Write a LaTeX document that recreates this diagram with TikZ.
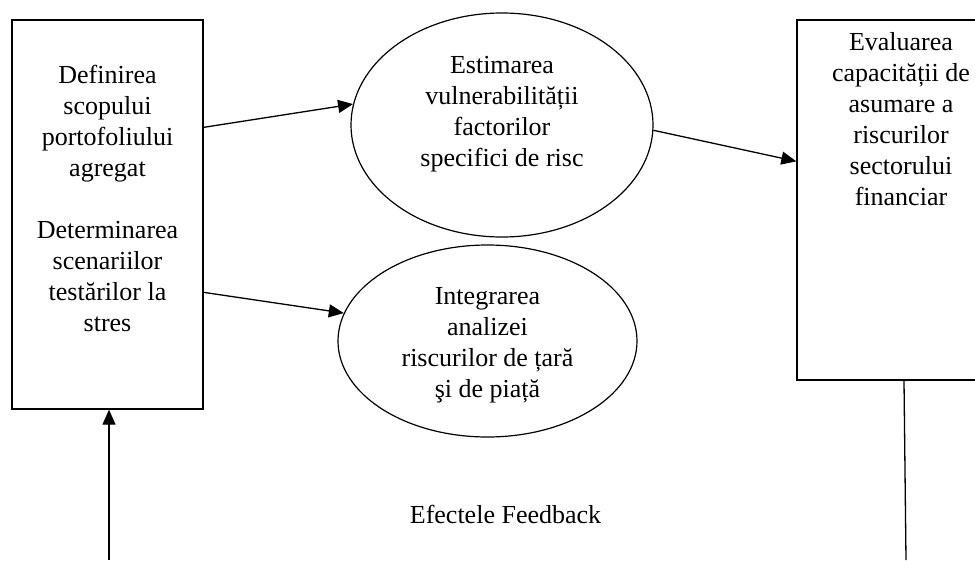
\documentclass[tikz,border=0pt]{standalone}
\usepackage{fontspec}
\setmainfont{Liberation Serif}
\usetikzlibrary{shapes.geometric,arrows.meta,calc}
\tikzset{
  boxshape/.style={draw, line width=1.3pt, rectangle, inner sep=0pt},
  ovalshape/.style={draw, line width=1.2pt, ellipse, inner sep=0pt},
  lbl/.style={align=center, inner sep=0pt, anchor=north, font=\fontsize{26}{31}\selectfont},
  conn/.style={line width=1.3pt, -{Triangle[length=15pt,width=13pt]}},
  plainconn/.style={line width=1.3pt}
}
\begin{document}
\begin{tikzpicture}[x=1pt,y=-1pt]
\useasboundingbox (0,0) rectangle (975,560);
\clip (0,0) rectangle (975,560);
% shapes
\node[boxshape, minimum width=191pt, minimum height=389pt] (lbox) at (107.5,214.5) {};
\node[boxshape, minimum width=208pt, minimum height=360pt] (rbox) at (901,200) {};
\node[ovalshape, minimum width=302pt, minimum height=224pt] (e1) at (502,125) {};
\node[ovalshape, minimum width=299pt, minimum height=192pt] (e2) at (487.5,341) {};
% texts
\node[lbl] (lboxt) at (107.5,61.5) {\strut Definirea\\scopului\\portofoliului\\agregat\\[31pt]Determinarea\\scenariilor\\testărilor la\\stres};
\node[lbl] (rboxt) at (901,28.5) {\strut Evaluarea\\capacității de\\asumare a\\riscurilor\\sectorului\\financiar};
\node[lbl] (e1t) at (502,51.5) {\strut Estimarea\\vulnerabilității\\factorilor\\specifici de risc};
\node[lbl] (e2t) at (487.5,282.5) {\strut Integrarea\\analizei\\riscurilor de țară\\şi de piață};
\node[font=\fontsize{26}{31}\selectfont, inner sep=0pt, anchor=base] (fb) at (505.5,523) {Efectele Feedback};
% connectors
\draw[conn] ($(lbox.north east)+(0,108)$) -- (e1.172);
\draw[conn] ($(lbox.north east)+(0,273)$) -- (e2.169);
\draw[conn] (e1.-2) -- ($(rbox.north west)+(0,142)$);
\coordinate (fbL) at (109,560);
\coordinate (fbR) at (906,560);
\draw[conn] (fbL) -- (fbL |- lbox.south);
\draw[plainconn] ($(rbox.south)+(3,0)$) -- (fbR);
\end{tikzpicture}
\end{document}
